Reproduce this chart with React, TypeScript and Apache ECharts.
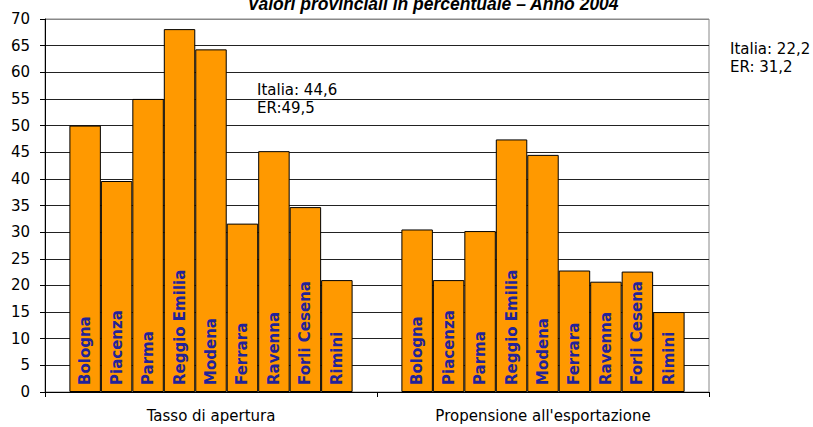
import React, { useEffect, useRef } from "react";
import * as echarts from "echarts";

const categories = ["Tasso di apertura", "Propensione all'esportazione"];
const provinces = [
  "Bologna",
  "Piacenza",
  "Parma",
  "Reggio Emilia",
  "Modena",
  "Ferrara",
  "Ravenna",
  "Forli Cesena",
  "Rimini",
];
const tassoApertura = [50.0, 39.6, 55.0, 68.1, 64.3, 31.6, 45.2, 34.7, 21.0];
const propensioneEsportazione = [30.5, 21.0, 30.2, 47.4, 44.5, 22.8, 20.7, 22.6, 15.0];
const titleText = "Valori provinciali in percentuale – Anno 2004";
const noteLeft = ["Italia: 44,6", "ER:49,5"];
const noteRight = ["Italia: 22,2", "ER: 31,2"];

const FONT = "'DejaVu Sans', sans-serif";

export default function App() {
  const ref = useRef<HTMLDivElement>(null);
  useEffect(() => {
    if (!ref.current) return;
    const chart = echarts.init(ref.current, null, { renderer: "svg" });
    const splitColors = Array.from({ length: 15 }, (_, i) => (i === 14 ? "#888888" : "#222222"));
    const series = provinces.map((name, i) => ({
      name,
      type: "bar",
      data: [tassoApertura[i], propensioneEsportazione[i]],
      barGap: "0%",
      barCategoryGap: "14.7%",
      itemStyle: { color: "#FF9900", borderColor: "#000000", borderWidth: 1 },
      label: {
        show: true,
        formatter: "{a}",
        position: "insideBottom",
        rotate: 90,
        align: "left",
        verticalAlign: "middle",
        distance: 7,
        color: "#22229A",
        fontFamily: FONT,
        fontWeight: "bold",
        fontSize: 15,
      },
    }));
    chart.setOption({
      animation: false,
      grid: {
        left: 45,
        right: 104,
        top: 19,
        bottom: 35,
        show: true,
        borderColor: "#888888",
        borderWidth: 1,
        backgroundColor: "transparent",
      },
      xAxis: {
        type: "category",
        data: categories,
        axisLine: { show: true, lineStyle: { color: "#000", width: 1 } },
        axisTick: { show: true, length: 5, lineStyle: { color: "#000" } },
        axisLabel: { color: "#000", fontFamily: FONT, fontSize: 15, margin: 16 },
      },
      yAxis: {
        type: "value",
        min: 0,
        max: 70,
        interval: 5,
        axisLine: { show: true, lineStyle: { color: "#000", width: 1 } },
        axisTick: { show: true, length: 5, lineStyle: { color: "#000" } },
        axisLabel: { color: "#000", fontFamily: FONT, fontSize: 15, margin: 15 },
        splitLine: { show: true, lineStyle: { color: splitColors, width: 1 } },
      },
      graphic: [
        {
          type: "text",
          x: 433,
          y: 13,
          style: {
            text: titleText,
            align: "center",
            verticalAlign: "bottom",
            font: "italic bold 17.5px 'Liberation Sans', Arial, sans-serif",
            fill: "#000",
          },
        },
        {
          type: "text",
          x: 257,
          y: 90,
          style: { text: noteLeft[0], verticalAlign: "middle", font: "15px 'DejaVu Sans', sans-serif", fill: "#000" },
        },
        {
          type: "text",
          x: 257,
          y: 108,
          style: { text: noteLeft[1], verticalAlign: "middle", font: "15px 'DejaVu Sans', sans-serif", fill: "#000" },
        },
        {
          type: "text",
          x: 730,
          y: 49,
          style: { text: noteRight[0], verticalAlign: "middle", font: "15px 'DejaVu Sans', sans-serif", fill: "#000" },
        },
        {
          type: "text",
          x: 730,
          y: 67,
          style: { text: noteRight[1], verticalAlign: "middle", font: "15px 'DejaVu Sans', sans-serif", fill: "#000" },
        },
      ],
      series,
    });
    return () => chart.dispose();
  }, []);
  return <div ref={ref} style={{ width: 813, height: 427, position: "absolute", left: 0, top: 0 }} />;
}
